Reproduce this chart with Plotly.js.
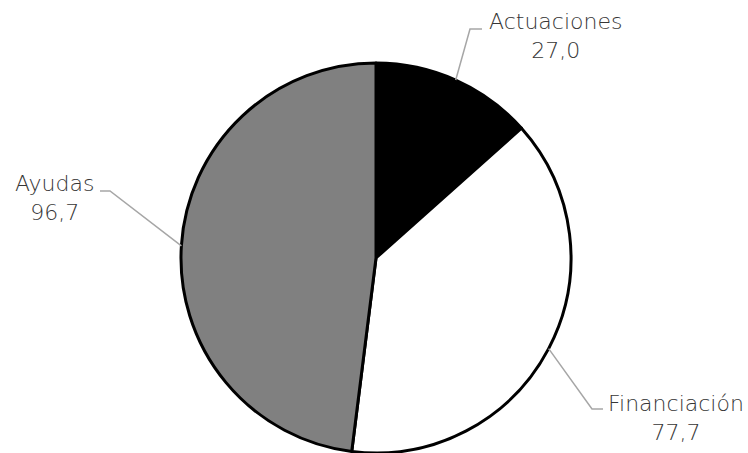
<!DOCTYPE html>
<html><head><meta charset="utf-8">
<script src="https://cdn.plot.ly/plotly-3.0.1.min.js"></script>
<style>html,body{margin:0;padding:0;background:#fff}#c{width:748px;height:453px}</style>
</head><body><div id="c"></div>
<script>
var categories = ["Actuaciones", "Financiación", "Ayudas"];
var values = [27.0, 77.7, 96.7];
var colors = ["#000000", "#ffffff", "#808080"];
// label placement: elbow point and text position (pixels)
var elbows = [[470, 29, 482], [592, 409, 603], [110, 191, 100]];
var textPos = [[555, 36], [676, 418], [54, 198]];

var W = 748, H = 453;
var cx = 376, cy = 258, R = 195;
function px(x){return x / W;}
function py(y){return 1 - y / H;}

var total = values.reduce(function(a,b){return a+b;},0);
var shapes = [], annotations = [];
var cum = 0;
for (var i = 0; i < values.length; i++) {
  var mid = (cum + values[i] / 2) / total * 2 * Math.PI;
  cum += values[i];
  var sx = cx + R * Math.sin(mid), sy = cy - R * Math.cos(mid);
  var e = elbows[i];
  shapes.push({type:'path', xref:'paper', yref:'paper',
    path:'M'+px(sx)+','+py(sy)+' L'+px(e[0])+','+py(e[1])+' L'+px(e[2])+','+py(e[1]),
    line:{color:'#a6a6a6', width:1.5}});
  annotations.push({xref:'paper', yref:'paper', x:px(textPos[i][0]), y:py(textPos[i][1]),
    text: categories[i] + '<br>' + values[i].toFixed(1).replace('.', ','),
    showarrow:false, align:'center', xanchor:'center', yanchor:'middle',
    font:{family:'"DejaVu Sans", Lato, sans-serif', size:22, weight:200, color:'#363636'}});
}

var data = [{
  type:'pie', labels:categories, values:values, sort:false, direction:'clockwise', rotation:0,
  textinfo:'none', hoverinfo:'none',
  marker:{colors:colors, line:{color:'#000000', width:3}},
  domain:{x:[(cx-R)/W, (cx+R)/W], y:[1-(cy+R)/H, 1-(cy-R)/H]},
  showlegend:false
}];
var layout = {width:W, height:H, margin:{l:0,r:0,t:0,b:0}, paper_bgcolor:'#fff',
  shapes:shapes, annotations:annotations, showlegend:false};
Plotly.newPlot('c', data, layout, {displayModeBar:false, staticPlot:true});
</script></body></html>
